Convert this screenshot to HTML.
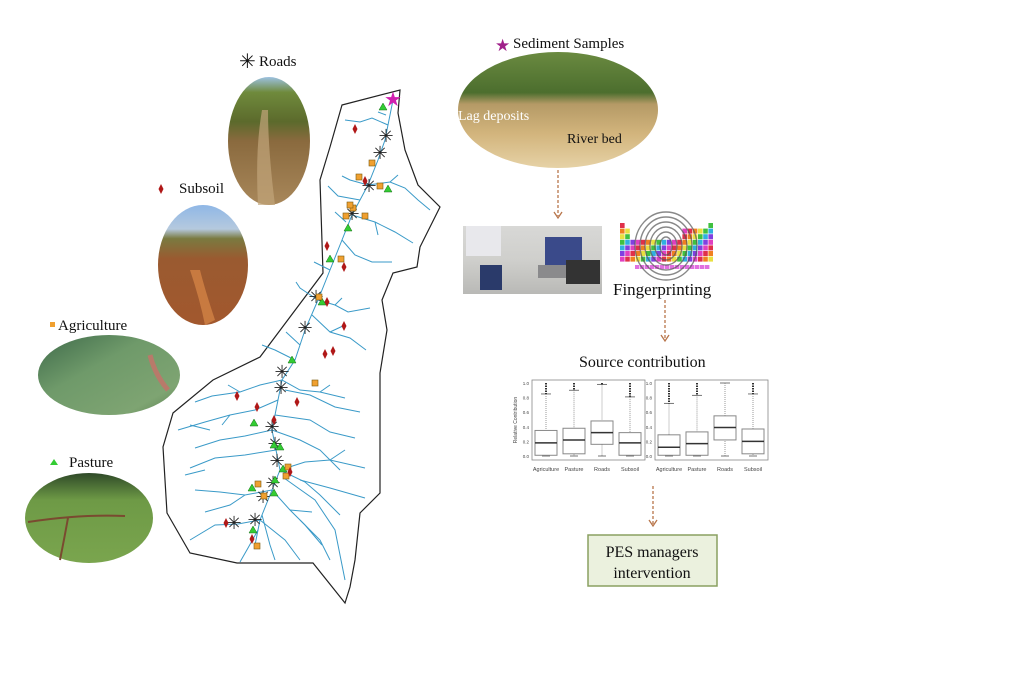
<!DOCTYPE html>
<html><head><meta charset="utf-8"><style>
html,body{margin:0;padding:0;background:#fff;width:1024px;height:700px;overflow:hidden}
svg{display:block}
text{font-family:"Liberation Serif",serif;fill:#111}
</style></head><body>
<svg id="s" width="1024" height="700" viewBox="0 0 1024 700" xmlns="http://www.w3.org/2000/svg">
<defs>
<linearGradient id="road" x1="0" y1="0" x2="0" y2="1">
<stop offset="0" stop-color="#9cc1e0"/><stop offset="0.12" stop-color="#6f8a3c"/><stop offset="0.35" stop-color="#5c6a2c"/><stop offset="0.5" stop-color="#8a6a3e"/><stop offset="1" stop-color="#a8875a"/></linearGradient>
<linearGradient id="sub" x1="0" y1="0" x2="0" y2="1">
<stop offset="0" stop-color="#8fb7e6"/><stop offset="0.2" stop-color="#b5c9de"/><stop offset="0.28" stop-color="#7a7a40"/><stop offset="0.45" stop-color="#9a5a30"/><stop offset="1" stop-color="#a2582e"/></linearGradient>
<linearGradient id="agr" x1="0" y1="0" x2="1" y2="1">
<stop offset="0" stop-color="#3e6a4a"/><stop offset="0.4" stop-color="#6f9a6a"/><stop offset="0.8" stop-color="#7ea472"/><stop offset="1" stop-color="#5a8050"/></linearGradient>
<linearGradient id="pas" x1="0" y1="0" x2="0" y2="1">
<stop offset="0" stop-color="#2f4a28"/><stop offset="0.3" stop-color="#6e9a46"/><stop offset="1" stop-color="#7aa54e"/></linearGradient>
<linearGradient id="sed" x1="0" y1="0" x2="0" y2="1">
<stop offset="0" stop-color="#6a8a40"/><stop offset="0.35" stop-color="#4c6e2e"/><stop offset="0.45" stop-color="#b59a66"/><stop offset="0.7" stop-color="#d2b47c"/><stop offset="1" stop-color="#e6d2a6"/></linearGradient>
<linearGradient id="lab" x1="0" y1="0" x2="0" y2="1">
<stop offset="0" stop-color="#d8d8d6"/><stop offset="0.5" stop-color="#cfcfcc"/><stop offset="1" stop-color="#b9b9b6"/></linearGradient>
</defs>

<ellipse cx="269" cy="141" rx="41" ry="64" fill="url(#road)"/>
<path d="M262 110 Q255 150 258 205 L275 205 Q268 150 268 110Z" fill="#c2a57a" opacity=".7"/>
<ellipse cx="203" cy="265" rx="45" ry="60" fill="url(#sub)"/>
<path d="M190 270 Q200 300 205 325 L215 320 Q205 290 200 270Z" fill="#c87a40"/>
<ellipse cx="109" cy="375" rx="71" ry="40" fill="url(#agr)"/>
<path d="M150 355 Q155 375 168 390" stroke="#b87a6a" stroke-width="5" fill="none"/>
<ellipse cx="89" cy="518" rx="64" ry="45" fill="url(#pas)"/>
<path d="M28 522 Q80 514 125 516 M68 518 Q64 540 60 560" stroke="#7a4a30" stroke-width="2" fill="none"/>
<ellipse cx="558" cy="110" rx="100" ry="58" fill="url(#sed)"/>
<rect x="463" y="226" width="139" height="68" fill="url(#lab)"/>
<rect x="545" y="237" width="37" height="28" fill="#3a4a8a"/>
<rect x="538" y="265" width="50" height="13" fill="#8a8a8c"/>
<rect x="466" y="226" width="35" height="30" fill="#e8e8ec"/>
<rect x="480" y="265" width="22" height="25" fill="#2a3a6a"/>
<rect x="566" y="260" width="34" height="24" fill="#333"/>
<g id="pt"></g>

<text x="259" y="66" font-size="15">Roads</text>
<text x="239" y="68" font-size="20" fill="#222">✳</text>
<text x="179" y="193" font-size="15">Subsoil</text>
<text x="58" y="330" font-size="15">Agriculture</text>
<text x="69" y="467" font-size="15">Pasture</text>
<text x="513" y="48" font-size="15">Sediment Samples</text>
<text x="458" y="120" font-size="14" style="fill:#fff">Lag deposits</text>
<text x="567" y="143" font-size="14">River bed</text>
<text x="613" y="295" font-size="17">Fingerprinting</text>
<text x="579" y="367" font-size="16">Source contribution</text>
<rect x="588" y="535" width="129" height="51" fill="#ebf1de" stroke="#8aa060" stroke-width="1.5"/>
<text x="652" y="557" font-size="16" text-anchor="middle">PES managers</text>
<text x="652" y="578" font-size="16" text-anchor="middle">intervention</text>

<g stroke="#b8754a" stroke-width="1.3" stroke-dasharray="3,2" fill="none">
<line x1="558" y1="170" x2="558" y2="216"/><line x1="665" y1="300" x2="665" y2="339"/><line x1="653" y1="486" x2="653" y2="524"/></g>
<g stroke="#b8754a" stroke-width="1.3" fill="none">
<path d="M554 212 L558 218 L562 212"/><path d="M661 335 L665 341 L669 335"/><path d="M649 520 L653 526 L657 520"/></g>

<g id="bp"></g>

<path d="M342 105 L400 90 L398 113 L405 150 L418 185 L440 207 L420 247 L417 267 L393 273 L382 300 L387 330 L380 373 L380 493 L360 513 L355 560 L350 587 L345 603 L313 563 L237 563 L190 553 L167 513 L163 447 L173 413 L213 380 L260 357 L293 313 L323 273 L320 180 L330 147 Z" fill="#fff" stroke="#222" stroke-width="1.2"/>
<g id="riv" stroke="#3a9ac8" stroke-width="1" fill="none"></g>
<g id="mk"></g>
</svg>
<script>
var NS="http://www.w3.org/2000/svg";
function el(p,t,a,txt){var e=document.createElementNS(NS,t);for(var k in a)e.setAttribute(k,a[k]);if(txt)e.textContent=txt;document.getElementById(p).appendChild(e);return e;}
function pl(pts){return "M"+pts.map(p=>p.join(" ")).join(" L");}
var main=[[393,100],[385,140],[378,160],[368,185],[352,215],[342,240],[330,270],[318,300],[305,330],[295,360],[282,380],[278,400],[272,430],[276,450],[280,470],[272,490],[260,520],[255,545]];
el("riv","path",{d:pl(main)});
var tr=[
[[388,125],[372,118],[360,122],[345,120]],[[386,115],[378,112]],
[[368,185],[390,182],[405,188],[418,200],[430,210]],[[390,182],[398,175]],[[368,185],[350,180],[342,176]],
[[360,200],[338,196],[328,186]],[[352,215],[375,222],[395,232],[413,243]],[[375,222],[378,235]],
[[346,222],[335,212]],[[342,240],[355,255],[372,262],[392,262]],
[[330,270],[314,262]],[[318,300],[300,288],[296,282]],[[318,300],[335,305],[348,312],[370,308]],[[335,305],[342,298]],
[[312,315],[330,332],[350,338],[366,350]],[[330,332],[345,325]],[[295,360],[275,350],[262,345]],
[[300,345],[286,332]],[[282,380],[260,385],[240,392],[212,396],[195,402]],[[240,392],[228,385]],[[282,380],[300,390],[320,392],[345,398]],
[[285,390],[310,395],[335,407],[360,412]],[[278,400],[255,410],[230,415],[205,422],[178,430]],[[230,415],[222,425]],
[[275,415],[310,420],[330,432],[355,438]],[[272,430],[245,436],[220,440],[195,448]],[[272,430],[300,440],[320,450],[340,470]],
[[276,450],[245,455],[215,458],[190,468]],[[280,470],[305,462],[330,460],[365,468]],[[330,460],[345,450]],
[[280,470],[305,482],[320,495],[340,515]],[[272,490],[245,495],[220,492],[195,490]],[[245,495],[230,505],[205,512]],
[[272,490],[290,510],[305,525],[322,545]],[[290,510],[312,512]],[[260,520],[238,524],[215,525],[190,540]],
[[260,520],[285,540],[300,560]],[[262,515],[270,545],[275,560]],[[258,530],[248,548],[240,562]],
[[284,478],[315,500],[335,530],[345,580]],[[300,480],[330,488],[365,498]],[[300,520],[320,540],[330,560]],
[[210,430],[190,425]],[[205,470],[185,475]],[[320,392],[330,385]]];
tr.forEach(t=>el("riv","path",{d:pl(t)}));
var stars=[[386,136],[380,153],[369,186],[352,214],[316,297],[305,328],[282,372],[281,388],[272,427],[275,444],[277,461],[273,483],[263,497],[255,520],[234,523]];
stars.forEach(p=>el("mk","text",{x:p[0],y:p[1]+6,"font-size":18,"text-anchor":"middle",style:"fill:#222"},"✳"));
var tri=[[383,107],[388,189],[348,228],[330,259],[322,302],[292,360],[254,423],[274,445],[280,447],[283,469],[275,480],[252,488],[274,493],[253,530]];
tri.forEach(p=>el("mk","path",{d:`M${p[0]-4} ${p[1]+3}L${p[0]+4} ${p[1]+3}L${p[0]} ${p[1]-4}Z`,fill:"#33cc33",stroke:"#187018","stroke-width":.5}));
var sq=[[372,163],[359,177],[380,186],[353,208],[350,205],[346,216],[365,216],[341,259],[319,297],[315,383],[288,467],[286,476],[264,496],[257,546],[258,484]];
sq.forEach(p=>el("mk","rect",{x:p[0]-3,y:p[1]-3,width:6,height:6,fill:"#f0a030",stroke:"#7a5a10","stroke-width":.6}));
var dm=[[355,129],[365,181],[327,246],[344,267],[327,302],[344,326],[325,354],[333,351],[237,396],[257,407],[297,402],[274,420],[290,472],[226,523],[252,539]];
dm.forEach(p=>el("mk","path",{d:`M${p[0]} ${p[1]-5}L${p[0]+2.5} ${p[1]}L${p[0]} ${p[1]+5}L${p[0]-2.5} ${p[1]}Z`,fill:"#b01818"}));
el("mk","path",{d:"M161 184L163.5 189L161 194L158.5 189Z",fill:"#b01818"});
el("mk","rect",{x:50,y:322,width:5,height:5,fill:"#f0a030"});
el("mk","path",{d:"M50 465L58 465L54 459Z",fill:"#33cc33"});
el("mk","text",{x:495,y:51,"font-size":17,style:"fill:#a0208a"},"★");
el("mk","text",{x:393,y:106,"font-size":20,"text-anchor":"middle",style:"fill:#d020b0"},"★");
var cols=["#e0304a","#f08020","#e8e040","#40c040","#30b0e0","#8040e0","#e040c0"];
for(var r=0;r<7;r++)for(var c=0;c<18;c++){if(r<3&&c>1&&c<12)continue;if(r==0&&c>0&&c<17)continue;
el("pt","rect",{x:620+c*5.2,y:223+r*5.6,width:4.6,height:5,fill:cols[(c+r)%7]});}
for(var c=0;c<15;c++){el("pt","rect",{x:635+c*5,y:265,width:4.4,height:4,fill:"#e070e0"});}
for(var i=0;i<6;i++)el("pt","ellipse",{cx:666,cy:246,rx:6+i*5,ry:9+i*5,fill:"none",stroke:"#555","stroke-width":1.4,opacity:.7});
function panel(x0,data){
 el("bp","rect",{x:x0,y:380,width:113,height:80,fill:"none",stroke:"#888","stroke-width":.8});
 var Y=v=>456-v*73;
 data.forEach((d,i)=>{var cx=x0+14+i*28;
  el("bp","line",{x1:cx,x2:cx,y1:Y(d[4]),y2:Y(0),stroke:"#999","stroke-dasharray":"1,1"});
  el("bp","rect",{x:cx-11,y:Y(d[2]),width:22,height:Y(d[0])-Y(d[2]),fill:"#fff",stroke:"#888"});
  el("bp","line",{x1:cx-11,x2:cx+11,y1:Y(d[1]),y2:Y(d[1]),stroke:"#333","stroke-width":1.5});
  el("bp","line",{x1:cx-5,x2:cx+5,y1:Y(d[4]),y2:Y(d[4]),stroke:"#777"});
  el("bp","line",{x1:cx-4,x2:cx+4,y1:Y(d[3]),y2:Y(d[3]),stroke:"#777"});
  if(d[4]<1)el("bp","line",{x1:cx,x2:cx,y1:Y(1),y2:Y(d[4]),stroke:"#333","stroke-width":2,"stroke-dasharray":"1.5,1"});
  el("bp","text",{x:cx,y:471,"font-size":5.5,"text-anchor":"middle",style:"font-family:Liberation Sans,sans-serif;fill:#444"},["Agriculture","Pasture","Roads","Subsoil"][i]);
 });
 [0,0.2,0.4,0.6,0.8,1].forEach(v=>{el("bp","text",{x:x0-3,y:Y(v)+2,"font-size":4.5,"text-anchor":"end",style:"font-family:Liberation Sans,sans-serif;fill:#444"},v.toFixed(1));});
}
panel(532,[[0.01,0.18,0.35,0,0.85],[0.03,0.22,0.38,0,0.9],[0.16,0.32,0.48,0,0.98],[0.01,0.18,0.32,0,0.81]]);
panel(655,[[0.01,0.12,0.29,0,0.72],[0.01,0.17,0.33,0,0.83],[0.22,0.39,0.55,0,1],[0.03,0.2,0.37,0,0.85]]);
el("bp","text",{x:0,y:0,"font-size":5,"text-anchor":"middle",transform:"translate(517 420) rotate(-90)",style:"font-family:Liberation Sans,sans-serif;fill:#444"},"Relative Contribution");
</script>
</body></html>
